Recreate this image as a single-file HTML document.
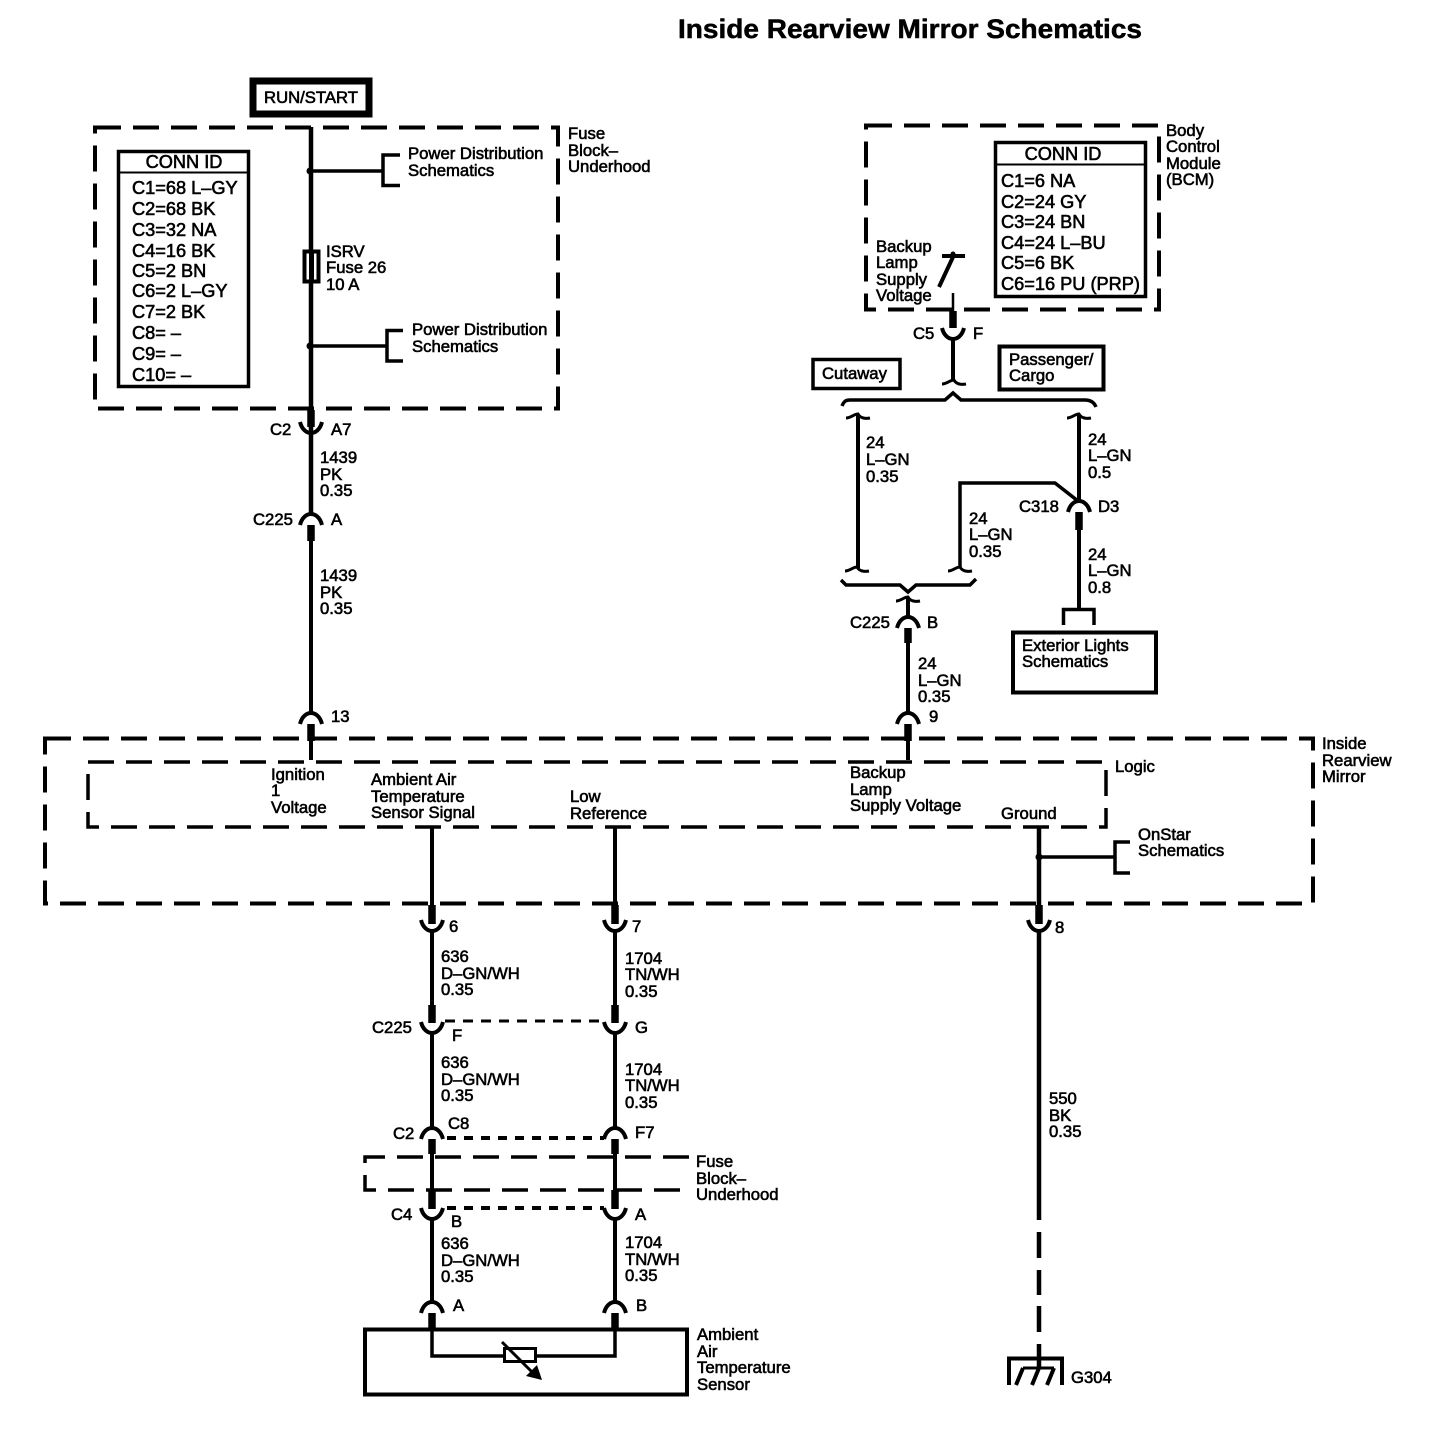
<!DOCTYPE html>
<html><head><meta charset="utf-8"><style>
html,body{margin:0;padding:0;background:#fff}
svg{display:block}
text{font-family:"Liberation Sans",sans-serif;font-size:16.7px;fill:#000;stroke:#000;stroke-width:.6px}
text.c{font-size:18.2px}
.b{fill:none;stroke:#000;stroke-width:4}
.d{fill:none;stroke:#000;stroke-width:4;stroke-dasharray:26 12}
.w{fill:none;stroke:#000;stroke-width:4}
.p{fill:none;stroke:#000;stroke-width:7.5}
</style></head><body>
<svg width="1436" height="1440" viewBox="0 0 1436 1440" xmlns="http://www.w3.org/2000/svg">
<defs>
<path id="cup" d="M-11,0 C-9,8 -4,11 0,11 C4,11 9,8 11,0" fill="none" stroke="#000" stroke-width="4"/>
<path id="arch" d="M-11,12 C-9,4 -4,1 0,1 C4,1 9,4 11,12" fill="none" stroke="#000" stroke-width="4"/>
<path id="til" d="M-12,3 C-7,3 -4,-1 0,-1 C2,3 7,4 12,3" fill="none" stroke="#000" stroke-width="3"/>
</defs>
<text x="678" y="38" style="font-size:27px;font-weight:bold;stroke-width:.5px" textLength="464" lengthAdjust="spacingAndGlyphs">Inside Rearview Mirror Schematics</text>

<!-- RUN/START -->
<rect x="253" y="81" width="116" height="33" fill="none" stroke="#000" stroke-width="7"/>
<text x="311" y="103" text-anchor="middle">RUN/START</text>

<!-- dashed boxes -->
<rect x="95" y="127.500" width="463" height="281" class="d"/>
<rect x="866" y="125.500" width="293" height="184" class="d"/>
<rect x="45" y="738.500" width="1268" height="165" class="d"/>
<path d="M88,762 H1106 V827 H88 Z" class="d" style="stroke-width:3.500"/>
<path d="M689,1157 H365 V1190 H689" class="d" style="stroke-width:3.500"/>

<!-- conn id left -->
<rect x="118.500" y="151.500" width="130" height="235" fill="#fff" stroke="#000" stroke-width="3.500"/>
<path d="M118,172.500 H249" stroke="#000" stroke-width="2"/>
<text class="c" x="184" y="168" text-anchor="middle">CONN ID</text>
<text class="c" x="132" y="194">C1=68 L–GY</text>
<text class="c" x="132" y="215">C2=68 BK</text>
<text class="c" x="132" y="236">C3=32 NA</text>
<text class="c" x="132" y="257">C4=16 BK</text>
<text class="c" x="132" y="277">C5=2 BN</text>
<text class="c" x="132" y="297">C6=2 L–GY</text>
<text class="c" x="132" y="318">C7=2 BK</text>
<text class="c" x="132" y="339">C8= –</text>
<text class="c" x="132" y="360">C9= –</text>
<text class="c" x="132" y="381">C10= –</text>

<!-- conn id right -->
<rect x="995.500" y="142.500" width="150" height="154" fill="#fff" stroke="#000" stroke-width="3.500"/>
<path d="M995,164.500 H1146" stroke="#000" stroke-width="2"/>
<text class="c" x="1063" y="160" text-anchor="middle">CONN ID</text>
<text class="c" x="1001" y="187">C1=6 NA</text>
<text class="c" x="1001" y="208">C2=24 GY</text>
<text class="c" x="1001" y="228">C3=24 BN</text>
<text class="c" x="1001" y="249">C4=24 L–BU</text>
<text class="c" x="1001" y="269">C5=6 BK</text>
<text class="c" x="1001" y="290">C6=16 PU (PRP)</text>

<!-- left main wire -->
<path d="M311,127 V513" class="w" style="stroke-width:4.500"/>
<rect x="304.500" y="251.500" width="14" height="30" fill="#fff" stroke="#000" stroke-width="4"/>
<path d="M311.500,250 V283" stroke="#000" stroke-width="5"/>
<circle cx="310" cy="171" r="3.500"/><circle cx="310" cy="346" r="3.500"/>
<path d="M310,171 H383 M400,155 H383 V185.500 H400" class="w" style="stroke-width:3.500"/>
<path d="M310,346 H387 M403,330.500 H387 V361 H403" class="w" style="stroke-width:3.500"/>
<path d="M311,410 V427" class="p"/>
<use href="#cup" x="311" y="422"/>
<use href="#arch" x="311" y="513"/>
<path d="M311,525 V541" class="p"/>
<path d="M311,541 V712" class="w"/>
<use href="#arch" x="311" y="712"/>
<path d="M311,724 V741" class="p"/>
<path d="M311,741 V760" class="w"/>

<!-- BCM switch -->
<path d="M942,256 H965" class="w"/><circle cx="953" cy="254" r="2.500"/>
<path d="M953,257 L939,287" class="w"/>
<path d="M953,293 V312" stroke="#000" stroke-width="2.500"/>
<path d="M953,311 V328" class="p"/>
<use href="#cup" x="953" y="328"/>
<path d="M953,338 V380" class="w"/>
<use href="#til" x="954" y="381"/>
<path d="M842,406 C844,401 846,400 850,400 H945 L953,393 L961,400 H1085 C1090,400 1094,402 1096,407" class="w" style="stroke-width:3.500"/>
<use href="#til" x="858" y="415"/><use href="#til" x="1079" y="415"/>
<path d="M858,415 V568" class="w"/>
<path d="M1079,415 V500" class="w"/>
<path d="M960,568 V483 H1055 L1078,501" class="w" style="stroke-width:3.500"/>
<use href="#til" x="857" y="568"/><use href="#til" x="960" y="568"/>
<path d="M841,580 L846,585 H900 L908,592 L916,585 H970 L976,579" class="w" style="stroke-width:3.500"/>
<use href="#til" x="908" y="598"/>
<path d="M908,598 V617" class="w"/>
<use href="#arch" x="908" y="616"/>
<path d="M908,628 V643" class="p"/>
<path d="M908,643 V712" class="w"/>
<use href="#arch" x="908" y="712"/>
<path d="M908,724 V741" class="p"/>
<path d="M908,741 V760" class="w"/>

<!-- C318 -->
<use href="#arch" x="1079" y="500"/>
<path d="M1079,512 V530" class="p"/>
<path d="M1079,530 V609" class="w"/>
<path d="M1063.500,625 V609.500 H1094 V625" class="w" style="stroke-width:3.500"/>
<rect x="1013" y="632.500" width="143" height="60" class="b"/>
<rect x="813" y="359.500" width="87" height="29" class="b" style="stroke-width:3.500"/>
<rect x="999.500" y="346.500" width="104" height="43" class="b"/>

<!-- low wires -->
<g id="lw">
<path d="M432,827 V905" class="w"/><path d="M615,827 V905" class="w"/>
<path d="M432,905 V924" class="p"/><path d="M615,905 V924" class="p"/>
<use href="#cup" x="432" y="920"/><use href="#cup" x="615" y="920"/>
<path d="M432,930 V1005" class="w"/><path d="M615,930 V1005" class="w"/>
<path d="M432,1005 V1023" class="p"/><path d="M615,1005 V1023" class="p"/>
<use href="#cup" x="432" y="1022"/><use href="#cup" x="615" y="1022"/>
<path d="M445,1021 H604" fill="none" stroke="#000" stroke-width="3" stroke-dasharray="10 8"/>
<path d="M432,1032 V1127" class="w"/><path d="M615,1032 V1127" class="w"/>
<use href="#arch" x="432" y="1127"/><use href="#arch" x="615" y="1127"/>
<path d="M447,1138 H604" fill="none" stroke="#000" stroke-width="4" stroke-dasharray="9 8"/>
<path d="M432,1139 V1154" class="p"/><path d="M615,1139 V1154" class="p"/>
<path d="M432,1154 V1190" class="w"/><path d="M615,1154 V1190" class="w"/>
<path d="M432,1190 V1209" class="p"/><path d="M615,1190 V1209" class="p"/>
<use href="#cup" x="432" y="1208"/><use href="#cup" x="615" y="1208"/>
<path d="M447,1208 H604" fill="none" stroke="#000" stroke-width="4" stroke-dasharray="9 8"/>
<path d="M432,1218 V1302" class="w"/><path d="M615,1218 V1302" class="w"/>
<use href="#arch" x="432" y="1301"/><use href="#arch" x="615" y="1301"/>
<path d="M432,1313 V1329" class="p"/><path d="M615,1313 V1329" class="p"/>
</g>

<!-- sensor -->
<rect x="365" y="1329.500" width="322" height="65" class="b"/>
<path d="M432,1329 V1356 H615 V1329" class="w" style="stroke-width:3.500"/>
<rect x="504.500" y="1348.500" width="31" height="13" fill="#fff" stroke="#000" stroke-width="3"/>
<path d="M502,1342 L532,1372" class="w" style="stroke-width:3"/>
<path d="M542,1380 L526,1376 L537,1365 Z"/>

<!-- ground wire -->
<path d="M1039,827 V905" class="w" style="stroke-width:4.500"/>
<circle cx="1039" cy="857" r="3.500"/>
<path d="M1039,857 H1115 M1130,842 H1115 V873 H1130" class="w" style="stroke-width:3.500"/>
<path d="M1039,905 V924" class="p"/>
<use href="#cup" x="1039" y="920"/>
<path d="M1039,930 V1220 M1039,1232 V1258 M1039,1270 V1295 M1039,1306 V1332 M1039,1344 V1368" class="w" style="stroke-width:4.500"/>
<path d="M1009,1385 V1358.500 H1062 V1385" class="w"/>
<path d="M1023,1368 H1054" class="w" style="stroke-width:3"/>
<path d="M1016,1385 L1023,1368 M1032,1385 L1039,1368 M1047,1385 L1054,1368" class="w"/>

<!-- labels -->
<text x="568" y="139">Fuse</text><text x="568" y="156">Block–</text><text x="568" y="172">Underhood</text>
<text x="408" y="159">Power Distribution</text><text x="408" y="176">Schematics</text>
<text x="412" y="335">Power Distribution</text><text x="412" y="352">Schematics</text>
<text x="326" y="257">ISRV</text><text x="326" y="273">Fuse 26</text><text x="326" y="290">10 A</text>
<text x="270" y="435">C2</text><text x="331" y="435">A7</text>
<text x="320" y="463">1439</text><text x="320" y="480">PK</text><text x="320" y="496">0.35</text>
<text x="253" y="525">C225</text><text x="331" y="525">A</text>
<text x="320" y="581">1439</text><text x="320" y="598">PK</text><text x="320" y="614">0.35</text>
<text x="331" y="722">13</text>

<text x="1166" y="136">Body</text><text x="1166" y="152">Control</text><text x="1166" y="169">Module</text><text x="1166" y="185">(BCM)</text>
<text x="876" y="252">Backup</text><text x="876" y="268">Lamp</text><text x="876" y="285">Supply</text><text x="876" y="301">Voltage</text>
<text x="913" y="339">C5</text><text x="973" y="339">F</text>
<text x="822" y="379">Cutaway</text>
<text x="1009" y="365">Passenger/</text><text x="1009" y="381">Cargo</text>
<text x="866" y="448">24</text><text x="866" y="465">L–GN</text><text x="866" y="482">0.35</text>
<text x="1088" y="445">24</text><text x="1088" y="461">L–GN</text><text x="1088" y="478">0.5</text>
<text x="1019" y="512">C318</text><text x="1098" y="512">D3</text>
<text x="969" y="524">24</text><text x="969" y="540">L–GN</text><text x="969" y="557">0.35</text>
<text x="1088" y="560">24</text><text x="1088" y="576">L–GN</text><text x="1088" y="593">0.8</text>
<text x="850" y="628">C225</text><text x="927" y="628">B</text>
<text x="1022" y="651">Exterior Lights</text><text x="1022" y="667">Schematics</text>
<text x="918" y="669">24</text><text x="918" y="686">L–GN</text><text x="918" y="702">0.35</text>
<text x="929" y="722">9</text>

<text x="1322" y="749">Inside</text><text x="1322" y="766">Rearview</text><text x="1322" y="782">Mirror</text>
<text x="1115" y="772">Logic</text>
<text x="271" y="780">Ignition</text><text x="271" y="796">1</text><text x="271" y="813">Voltage</text>
<text x="371" y="785">Ambient Air</text><text x="371" y="802">Temperature</text><text x="371" y="818">Sensor Signal</text>
<text x="570" y="802">Low</text><text x="570" y="819">Reference</text>
<text x="850" y="778">Backup</text><text x="850" y="795">Lamp</text><text x="850" y="811">Supply Voltage</text>
<text x="1001" y="819">Ground</text>
<text x="1138" y="840">OnStar</text><text x="1138" y="856">Schematics</text>

<text x="449" y="932">6</text><text x="632" y="932">7</text><text x="1055" y="933">8</text>
<text x="441" y="962">636</text><text x="441" y="979">D–GN/WH</text><text x="441" y="995">0.35</text>
<text x="625" y="964">1704</text><text x="625" y="980">TN/WH</text><text x="625" y="997">0.35</text>
<text x="372" y="1033">C225</text><text x="452" y="1041">F</text><text x="635" y="1033">G</text>
<text x="441" y="1068">636</text><text x="441" y="1085">D–GN/WH</text><text x="441" y="1101">0.35</text>
<text x="625" y="1075">1704</text><text x="625" y="1091">TN/WH</text><text x="625" y="1108">0.35</text>
<text x="393" y="1139">C2</text><text x="448" y="1129">C8</text><text x="635" y="1138">F7</text>
<text x="696" y="1167">Fuse</text><text x="696" y="1184">Block–</text><text x="696" y="1200">Underhood</text>
<text x="391" y="1220">C4</text><text x="451" y="1227">B</text><text x="635" y="1220">A</text>
<text x="441" y="1249">636</text><text x="441" y="1266">D–GN/WH</text><text x="441" y="1282">0.35</text>
<text x="625" y="1248">1704</text><text x="625" y="1265">TN/WH</text><text x="625" y="1281">0.35</text>
<text x="453" y="1311">A</text><text x="636" y="1311">B</text>
<text x="697" y="1340">Ambient</text><text x="697" y="1357">Air</text><text x="697" y="1373">Temperature</text><text x="697" y="1390">Sensor</text>
<text x="1049" y="1104">550</text><text x="1049" y="1121">BK</text><text x="1049" y="1137">0.35</text>
<text x="1071" y="1383">G304</text>
</svg>
</body></html>
